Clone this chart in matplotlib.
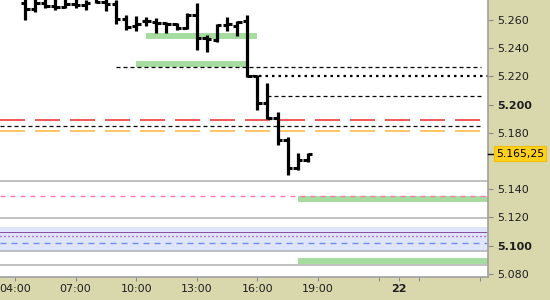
import matplotlib.pyplot as plt
from matplotlib.transforms import blended_transform_factory

plt.rcParams['lines.scale_dashes'] = False
plt.rcParams['font.family'] = 'DejaVu Sans'

# 30 minute bars (hour of day)
bar_hours = [4.5, 5.0, 5.5, 6.0, 6.5, 7.0, 7.5, 8.0, 8.5, 9.0,
             9.5, 10.0, 10.5, 11.0, 11.5, 12.0, 12.5, 13.0, 13.5, 14.0,
             14.5, 15.0, 15.5, 16.0, 16.5, 17.0, 17.5, 18.0, 18.5]
opens = [5.2721, 5.2678, 5.2721, 5.2699, 5.2692, 5.2713, 5.2706, 5.2756, 5.2728, 5.2713,
         5.2607, 5.2557, 5.2593, 5.2586, 5.2579, 5.2572, 5.2543, 5.2635, 5.2472, 5.2458,
         5.2565, 5.2557, 5.2593, 5.2203, 5.2011, 5.1905, 5.1749, 5.1550, 5.1607]
highs = [5.2777, 5.2777, 5.2763, 5.2763, 5.2756, 5.2756, 5.2742, 5.2784, 5.2763, 5.2742,
         5.2635, 5.2628, 5.2621, 5.2614, 5.2586, 5.2579, 5.2650, 5.2721, 5.2494, 5.2572,
         5.2621, 5.2593, 5.2635, 5.2210, 5.2153, 5.1948, 5.1770, 5.1657, 5.1657]
lows = [5.2600, 5.2657, 5.2685, 5.2671, 5.2685, 5.2685, 5.2671, 5.2721, 5.2664, 5.2572,
        5.2529, 5.2522, 5.2557, 5.2508, 5.2508, 5.2529, 5.2536, 5.2387, 5.2373, 5.2444,
        5.2522, 5.2487, 5.2196, 5.1962, 5.1898, 5.1713, 5.1501, 5.1536, 5.1593]
closes = [5.2678, 5.2721, 5.2699, 5.2692, 5.2713, 5.2706, 5.2721, 5.2728, 5.2713, 5.2607,
          5.2550, 5.2572, 5.2593, 5.2579, 5.2572, 5.2543, 5.2635, 5.2472, 5.2465, 5.2565,
          5.2572, 5.2586, 5.2203, 5.2011, 5.1905, 5.1749, 5.1550, 5.1607, 5.16525]
last_price = 5.16525
last_label = '5.165,25'

price_ticks = [5.08, 5.10, 5.12, 5.14, 5.18, 5.20, 5.22, 5.24, 5.26]
bold_prices = [5.10, 5.20]
time_ticks = [4, 7, 10, 13, 16, 19, 23]
time_labels = ['04:00', '07:00', '10:00', '13:00', '16:00', '19:00', '22']
minor_time_ticks = [22, 24, 27]

# level lines: (price, from hour, to hour)
green_levels = [(5.2487, 10.5, 16.0), (5.2288, 10.0, 15.45),
                (5.1330, 18.0, 27.5), (5.0890, 18.0, 27.5)]
grey_levels = [5.1458, 5.1196, 5.0962, 5.0862]
black_dashed = [(5.2267, 9.0, 27.05), (5.2061, 16.5, 27.15), (5.1848, 3.0, 27.05)]
dotted_level = (5.2203, 15.45, 27.5)
red_level = 5.1891
orange_level = 5.1813
pink_level = 5.1352
band = (5.0962, 5.1132)
purple_solid = 5.1097
purple_dotted = 5.1068
blue_dashed = 5.1018

x0, x1 = 3.257, 27.42
y0, y1 = 5.0777, 5.2742

fig = plt.figure(figsize=(5.5, 3), dpi=100, facecolor='#d9d8ad')
ax = fig.add_axes([0, 23 / 300, 488 / 550, 277 / 300])
ax.set_facecolor('white')
ax.set_xlim(x0, x1)
ax.set_ylim(y0, y1)

px = 0.72  # points per pixel

# lower zone
ax.axhspan(band[0], band[1], color='#dfe5fb', lw=0, zorder=0)
ax.hlines(grey_levels, x0, x1, color='#b0b0b0', lw=1.1, zorder=1)
ax.axhline(purple_solid, color='#8a4a9f', lw=0.7, zorder=2)
ax.axhline(purple_dotted, color='#9a00d0', lw=1.0, dashes=(1 * px, 3 * px), zorder=2)
ax.axhline(blue_dashed, color='#6f8ff0', lw=1.0, dashes=(6 * px, 5 * px), zorder=2)
ax.hlines(pink_level, x0, 27.3, color='#ff77b0', lw=1.0, linestyles=[(0, (5 * px, 5 * px))], zorder=2)

# upper levels
ax.hlines(red_level, x0, 27.02, color='#ee2a2a', lw=1.1, linestyles=[(0, (25 * px, 10 * px))], zorder=2)
ax.hlines(orange_level, x0, 27.02, color='#ffb43c', lw=1.1, linestyles=[(0, (25 * px, 10 * px))], zorder=2)
for price, h0, h1 in black_dashed:
    ax.hlines(price, max(h0, x0), h1, color='black', lw=0.9,
              linestyles=[(0, (4 * px, 3 * px))], zorder=2)
ax.hlines(dotted_level[0], dotted_level[1], dotted_level[2], color='black', lw=1.6,
          linestyles=[(0, (2.5 * px, 4 * px))], zorder=2)
for price, h0, h1 in green_levels:
    ax.hlines(price, h0, h1, color='#a7dca1', lw=4.3, zorder=1)

# OHLC bars
tick = 0.22
ax.vlines(bar_hours, lows, highs, color='black', lw=2.3, capstyle='butt', zorder=4)
ax.hlines(opens, [h - tick for h in bar_hours], bar_hours, color='black', lw=2.2,
          capstyle='butt', zorder=4)
ax.hlines(closes, bar_hours, [h + tick for h in bar_hours], color='black', lw=2.2,
          capstyle='butt', zorder=4)

# axes styling
for side in ['left', 'top']:
    ax.spines[side].set_visible(False)
for side in ['right', 'bottom']:
    ax.spines[side].set_color('#a0a0a0')
    ax.spines[side].set_linewidth(1.2)

ax.yaxis.tick_right()
ax.set_yticks(price_ticks)
ax.set_yticklabels(['%.3f' % p for p in price_ticks])
for lbl, p in zip(ax.get_yticklabels(), price_ticks):
    if any(abs(p - b) < 1e-9 for b in bold_prices):
        lbl.set_fontweight('bold')
ax.tick_params(axis='y', which='both', length=3.5, width=0.8, color='#8a8a8a',
               labelsize=8, labelcolor='#1e1e1e', pad=3)

ax.set_xticks(time_ticks)
ax.set_xticklabels(time_labels)
ax.set_xticks(minor_time_ticks, minor=True)
ax.get_xticklabels()[-1].set_fontweight('bold')
ax.tick_params(axis='x', which='both', length=3, width=0.8, color='#8a8a8a',
               labelsize=8, labelcolor='#1e1e1e', pad=2)

# last price marker
trans = blended_transform_factory(ax.transAxes, ax.transData)
ax.plot([1.0, 1.01], [last_price, last_price], color='black', lw=1, transform=trans,
        clip_on=False, zorder=5)
ax.text(1.016, last_price, last_label, transform=trans, fontsize=7.8, color='black',
        va='center', ha='left', zorder=6,
        bbox=dict(boxstyle='square,pad=0.2', facecolor='#ffd11e', edgecolor='#f0c000', lw=0.8))

fig.savefig('out.png', dpi=100, facecolor=fig.get_facecolor())
